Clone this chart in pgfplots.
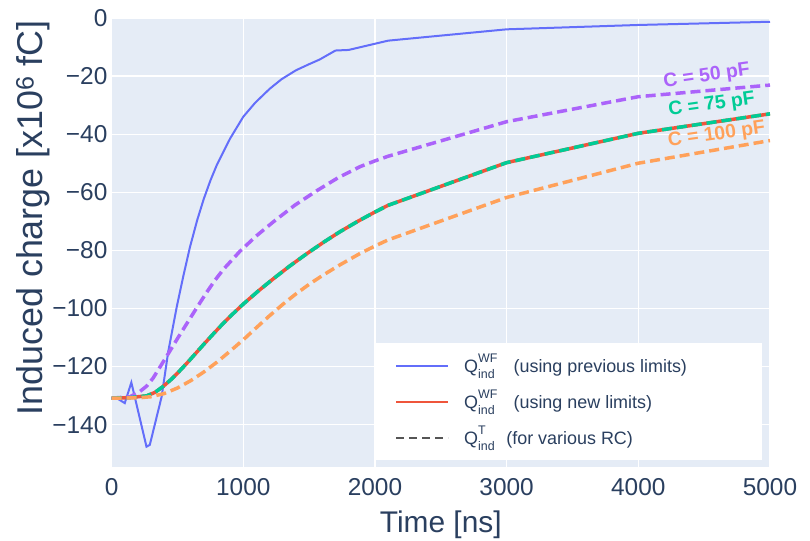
\documentclass[border=0pt]{standalone}
\usepackage{pgfplots}
\pgfplotsset{compat=1.18}
\usepackage{pgfplotstable}
\usepackage{fontspec}
\setmainfont{Liberation Sans}
\definecolor{bgc}{HTML}{E5ECF6}
\definecolor{txt}{HTML}{2A3F5F}
\definecolor{pblue}{HTML}{636EFA}
\definecolor{pred}{HTML}{EF553B}
\definecolor{pgreen}{HTML}{00CC96}
\definecolor{ppurple}{HTML}{AB63FA}
\definecolor{porange}{HTML}{FFA15A}
\definecolor{lgray}{HTML}{555555}
\newcommand{\smallidx}[1]{{\fontsize{12.5}{12.5}\selectfont #1}}
\newcommand{\QWF}{Q\rlap{\raisebox{-0.33em}{\smallidx{ind}}}\raisebox{0.55em}{\smallidx{WF}}}
\newcommand{\QT}{Q\rlap{\raisebox{0.55em}{\smallidx{T}}}\raisebox{-0.33em}{\smallidx{ind}}}

\pgfplotstableread{
x y
0 -130.9
50 -131.2
100 -132.6
150 -125.5
265 -147.6
290 -147.0
380 -130.4
430 -114.9
495 -99.4
545 -88.8
595 -78.9
650 -69.6
700 -62.3
750 -56.0
800 -50.5
900 -41.5
1000 -34.0
1090 -29.2
1200 -24.4
1290 -21.1
1400 -18.0
1500 -15.9
1580 -14.3
1700 -11.2
1800 -11.0
2100 -7.8
3000 -3.9
4000 -2.4
5000 -1.3
}\tblue

\pgfplotstableread{
x y
0 -130.9
140 -130.7
266 -130.1
330 -128.9
393 -126.8
456 -124.3
519 -121.4
583 -118.3
646 -115.1
709 -111.9
772 -108.8
836 -105.7
899 -102.8
1000 -98.5
1114 -94.0
1228 -89.8
1350 -85.5
1481 -81.2
1610 -77.2
1734 -73.6
1870 -70.0
2000 -66.8
2100 -64.5
3000 -49.8
4000 -39.7
5000 -33.0
}\tseventyfive

\pgfplotstableread{
x y
0 -130.9
140 -130.4
215 -128.6
265 -126.8
315 -124.0
370 -120.0
430 -115.6
500 -110.4
570 -105.3
645 -99.9
720 -94.6
785 -90.3
850 -86.5
975 -80.3
1100 -75.0
1228 -70.2
1390 -64.5
1557 -59.5
1720 -55.0
1886 -51.2
2000 -49.2
2100 -47.6
3000 -35.7
4000 -27.1
5000 -23.1
}\tfifty

\pgfplotstableread{
x y
0 -130.9
200 -130.8
300 -130.4
400 -129.3
500 -127.4
600 -124.9
700 -121.9
800 -118.5
900 -114.7
1000 -110.8
1100 -106.6
1200 -102.5
1300 -98.6
1400 -95.0
1500 -91.7
1600 -88.7
1734 -85.0
1886 -81.1
2000 -78.5
2100 -76.4
3000 -61.8
4000 -50.0
5000 -42.2
}\thundred

\begin{document}
\begin{tikzpicture}
\path[use as bounding box] (-111.6bp,-74bp) rectangle (698.4bp,467bp);
\begin{axis}[
  at={(0,0)}, anchor=south west,
  scale only axis, width=658.4bp, height=449bp,
  xmin=0, xmax=5000, ymin=-154.6, ymax=0,
  axis background/.style={fill=bgc},
  axis line style={draw=none},
  xmajorgrids, ymajorgrids,
  grid style={white, line width=1.2bp},
  major tick length=0pt,
  xtick={0,1000,2000,3000,4000,5000},
  xticklabels={0,1000,2000,3000,4000,5000},
  ytick={-140,-120,-100,-80,-60,-40,-20,0},
  yticklabels={−140,−120,−100,−80,−60,−40,−20,0},
  tick label style={font=\fontsize{24.5}{24.5}\selectfont, text=txt},
  xticklabel style={anchor=base, inner sep=0pt, yshift=-28.5bp},
  yticklabel style={anchor=east, inner sep=0pt, xshift=-4bp},
  xlabel={Time [ns]},
  xlabel style={at={(axis description cs:0.5,-0.1448)}, anchor=base, font=\fontsize{30}{30}\selectfont, text=txt},
  ylabel={Induced charge [x10\textsuperscript{6} fC]},
  ylabel style={at={(axis description cs:-0.1194,0.555)}, anchor=center, font=\fontsize{36}{36}\selectfont, text=txt},
  legend image code/.code={\draw[#1] (0bp,0bp) -- (52bp,0bp);},
  legend cell align=left,
  legend style={at={(rel axis cs:0.400,0.276)}, anchor=north west, fill=white, draw=none,
    font=\fontsize{18}{18}\selectfont, text=txt, inner xsep=20bp, inner ysep=10bp,
    row sep=11bp, column sep=15bp,
    nodes={inner sep=0pt, text height=19bp, text depth=6bp}},
]
\addlegendimage{pblue, line width=2bp}
\addlegendentry{\QWF\hspace{0.9em}(using previous limits)\hspace*{55bp}}
\addlegendimage{pred, line width=2bp}
\addlegendentry{\QWF\hspace{0.9em}(using new limits)}
\addlegendimage{lgray, line width=2bp, dash pattern=on 8bp off 5bp}
\addlegendentry{\QT\hspace{0.65em}(for various RC)}

\addplot[pblue, line width=2bp, forget plot] table {\tblue};
\addplot[pred, line width=3.5bp, forget plot] table {\tseventyfive};
\addplot[ppurple, line width=3.5bp, dash pattern=on 10bp off 5bp, forget plot] table {\tfifty};
\addplot[pgreen, line width=3.5bp, dash pattern=on 10bp off 5bp, forget plot] table {\tseventyfive};
\addplot[porange, line width=3.5bp, dash pattern=on 10bp off 5bp, forget plot] table {\thundred};

\node[rotate=8, text=ppurple, font=\bfseries\fontsize{19.5}{19.5}\selectfont] at (axis cs:4520,-20.2) {C = 50 pF};
\node[rotate=8, text=pgreen, font=\bfseries\fontsize{19.5}{19.5}\selectfont] at (axis cs:4557,-30) {C = 75 pF};
\node[rotate=8, text=porange, font=\bfseries\fontsize{19.5}{19.5}\selectfont] at (axis cs:4595,-40.3) {C = 100 pF};
\end{axis}
\end{tikzpicture}
\end{document}
